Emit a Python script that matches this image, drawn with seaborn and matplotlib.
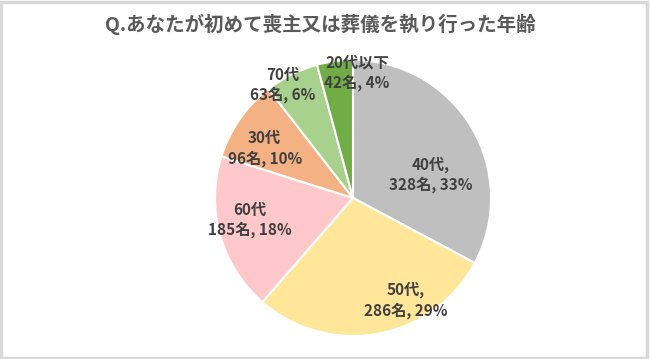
import matplotlib
matplotlib.use("Agg")
import matplotlib.pyplot as plt
import seaborn as sns
from matplotlib.patches import Rectangle

# データ
categories = ["40代", "50代", "60代", "30代", "70代", "20代以下"]
counts = [328, 286, 185, 96, 63, 42]
percents = [33, 29, 18, 10, 6, 4]
label_sep = [",", ",", "", "", "", ""]
colors = ["#bfbfbf", "#ffe699", "#ffc9cc", "#f4b183", "#a9d18e", "#70ad47"]

# ラベル位置 (半径単位)
label_pos = [(0.56, 0.17), (0.38, -0.74), (-0.75, -0.16),
             (-0.64, 0.36), (-0.51, 0.82), (0.03, 0.91)]

sns.set_theme(style="white")
plt.rcParams["font.family"] = ["Noto Sans CJK JP", "DejaVu Sans"]

fig = plt.figure(figsize=(6.5, 3.59), dpi=100)
ax = fig.add_axes([(353 - 138) / 650, 1 - (198 + 138) / 359, 276 / 650, 276 / 359])

ax.pie(counts, colors=colors, startangle=90, counterclock=False,
       wedgeprops={"edgecolor": "white", "linewidth": 1.5})
ax.set_xlim(-1, 1)
ax.set_ylim(-1, 1)
ax.set_aspect("equal")

for cat, n, p, sep, (x, y) in zip(categories, counts, percents, label_sep, label_pos):
    ax.text(x, y, f"{cat}{sep}\n{n}名, {p}%", ha="center", va="center",
            fontsize=11, color="#404040", fontweight="bold", linespacing=1.3)

fig.text(320 / 650, 1 - 24 / 359, "Q.あなたが初めて喪主又は葬儀を執り行った年齢",
         ha="center", va="center", fontsize=14, fontweight="bold", color="#595959")

# 外枠
fig.patches.append(Rectangle((0.002, 0.004), 0.993, 0.99, transform=fig.transFigure,
                             fill=False, edgecolor="#d9d9d9", linewidth=2.5))

fig.savefig("out.png", dpi=100)
